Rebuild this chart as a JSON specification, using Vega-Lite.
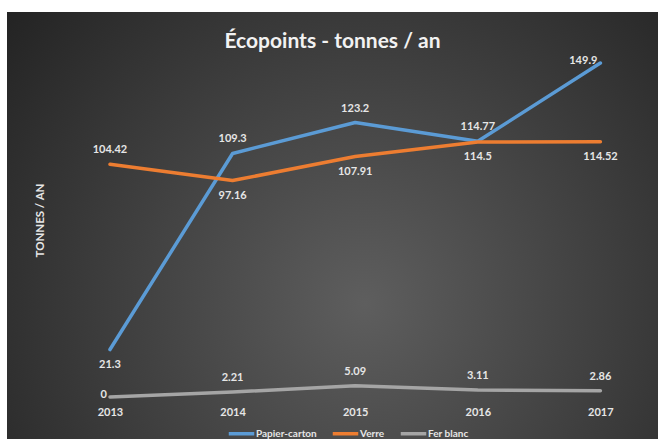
{
  "$schema": "https://vega.github.io/schema/vega-lite/v6.json",
  "width": 651,
  "height": 427,
  "autosize": {"type": "none"},
  "padding": {"left": 7, "top": 12, "right": 0, "bottom": 0},
  "background": "white",
  "title": {
    "text": "Écopoints - tonnes / an",
    "anchor": "middle",
    "frame": "group",
    "offset": -61,
    "baseline": "bottom",
    "font": "Lato",
    "fontSize": 21,
    "fontWeight": "bold",
    "color": "#f2f2f2"
  },
  "config": {
    "view": {
      "stroke": null,
      "fill": {
        "gradient": "radial",
        "x1": 0.55, "y1": 0.62, "r1": 0,
        "x2": 0.55, "y2": 0.62, "r2": 0.75,
        "stops": [
          {"offset": 0, "color": "#5e5e5e"},
          {"offset": 1, "color": "#202020"}
        ]
      }
    },
    "text": {"font": "Lato"}
  },
  "data": {
    "values": [
      {"year": 2013, "series": "Papier-carton", "value": 21.3},
      {"year": 2014, "series": "Papier-carton", "value": 109.3},
      {"year": 2015, "series": "Papier-carton", "value": 123.2},
      {"year": 2016, "series": "Papier-carton", "value": 114.77},
      {"year": 2017, "series": "Papier-carton", "value": 149.9},
      {"year": 2013, "series": "Verre", "value": 104.42},
      {"year": 2014, "series": "Verre", "value": 97.16},
      {"year": 2015, "series": "Verre", "value": 107.91},
      {"year": 2016, "series": "Verre", "value": 114.5},
      {"year": 2017, "series": "Verre", "value": 114.52},
      {"year": 2013, "series": "Fer blanc", "value": 0},
      {"year": 2014, "series": "Fer blanc", "value": 2.21},
      {"year": 2015, "series": "Fer blanc", "value": 5.09},
      {"year": 2016, "series": "Fer blanc", "value": 3.11},
      {"year": 2017, "series": "Fer blanc", "value": 2.86}
    ]
  },
  "encoding": {
    "x": {
      "field": "year",
      "type": "quantitative",
      "scale": {"domain": [2012.16, 2017.47], "nice": false, "zero": false},
      "axis": {
        "values": [2013, 2014, 2015, 2016, 2017],
        "format": "d",
        "offset": -33,
        "labelPadding": 0,
        "ticks": false,
        "domain": false,
        "grid": false,
        "title": null,
        "labelFont": "Lato",
        "labelFontWeight": "bold",
        "labelFontSize": 11,
        "labelColor": "#e6e6e6"
      }
    },
    "y": {
      "field": "value",
      "type": "quantitative",
      "scale": {"domain": [-18.85, 172.8], "nice": false, "zero": false},
      "axis": {
        "labels": false,
        "ticks": false,
        "domain": false,
        "grid": false,
        "title": "TONNES / AN",
        "titleX": 33,
        "titleY": 208,
        "titleAngle": -90,
        "titleAlign": "center",
        "titleBaseline": "middle",
        "titleFont": "Lato",
        "titleFontSize": 11.5,
        "titleFontWeight": "bold",
        "titleColor": "#e6e6e6"
      }
    }
  },
  "layer": [
    {
      "mark": {"type": "line", "strokeWidth": 3.5, "strokeCap": "round", "strokeJoin": "round"},
      "encoding": {
        "color": {
          "field": "series",
          "type": "nominal",
          "scale": {
            "domain": ["Papier-carton", "Verre", "Fer blanc"],
            "range": ["#5B9BD5", "#ED7D31", "#A5A5A5"]
          },
          "legend": {
            "orient": "none",
            "legendX": 220,
            "legendY": 407,
            "direction": "horizontal",
            "title": null,
            "symbolType": "stroke",
            "symbolStrokeWidth": 3.5,
            "symbolSize": 650,
            "labelOffset": 0,
            "columnPadding": 8,
            "labelFont": "Lato",
            "labelFontSize": 10,
            "labelFontWeight": "bold",
            "labelColor": "#e6e6e6"
          }
        }
      }
    },
    {
      "transform": [
        {"filter": "(datum.series == 'Papier-carton' && datum.year != 2013 && datum.year != 2017) || (datum.series == 'Verre' && datum.year == 2013) || (datum.series == 'Fer blanc' && datum.year != 2013)"}
      ],
      "mark": {"type": "text", "dy": -14, "fontSize": 11, "fontWeight": "bold", "color": "#e6e6e6"},
      "encoding": {"text": {"field": "value", "type": "nominal"}}
    },
    {
      "transform": [
        {"filter": "(datum.series == 'Papier-carton' && datum.year == 2013) || (datum.series == 'Verre' && datum.year != 2013)"}
      ],
      "mark": {"type": "text", "dy": 15, "fontSize": 11, "fontWeight": "bold", "color": "#e6e6e6"},
      "encoding": {"text": {"field": "value", "type": "nominal"}}
    },
    {
      "transform": [
        {"filter": "(datum.series == 'Papier-carton' && datum.year == 2017) || (datum.series == 'Fer blanc' && datum.year == 2013)"}
      ],
      "mark": {"type": "text", "align": "right", "dx": -3, "dy": -2, "fontSize": 11, "fontWeight": "bold", "color": "#e6e6e6"},
      "encoding": {"text": {"field": "value", "type": "nominal"}}
    }
  ]
}
